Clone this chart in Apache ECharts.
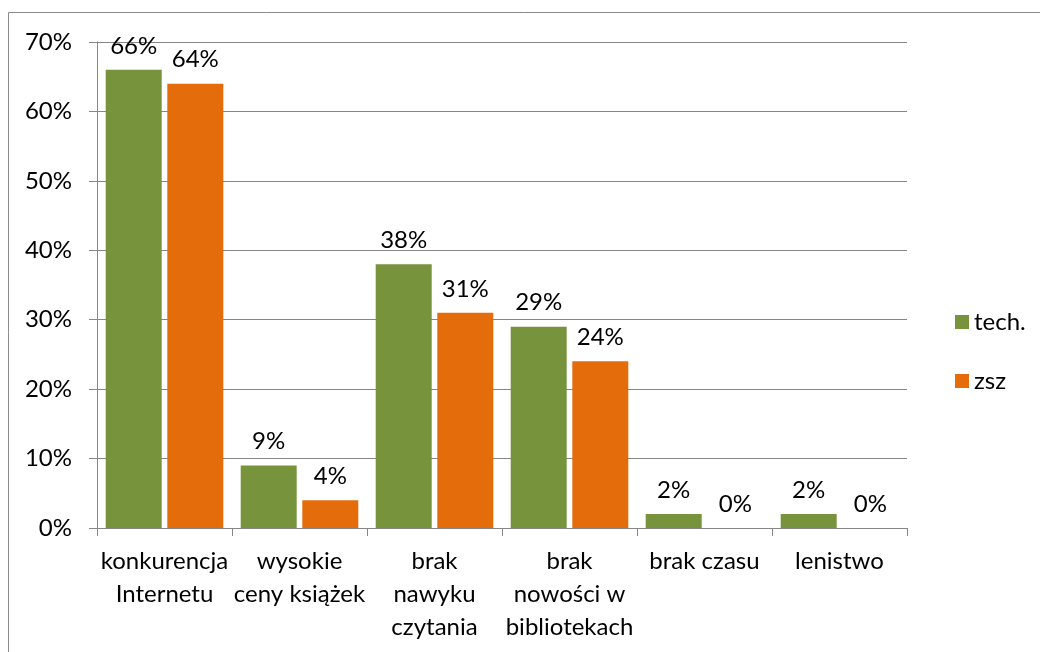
<!DOCTYPE html>
<html>
<head>
<meta charset="utf-8">
<script src="https://cdn.jsdelivr.net/npm/echarts@6/dist/echarts.min.js"></script>
<style>
  html, body { margin: 0; padding: 0; background: #fff; }
  #chart { width: 1040px; height: 652px; }
</style>
</head>
<body>
<div id="chart"></div>
<script>
const categories = [
  'konkurencja\nInternetu',
  'wysokie\nceny książek',
  'brak\nnawyku\nczytania',
  'brak\nnowości w\nbibliotekach',
  'brak czasu',
  'lenistwo'
]
const techValues = [66, 9, 38, 29, 2, 2]
const zszValues = [64, 4, 31, 24, 0, 0]

const font = 'Lato, "Open Sans", sans-serif'
const axisGray = '#868686'
const fontSize = 24

const chart = echarts.init(document.getElementById('chart'))

const barLabel = {
  show: true,
  position: 'top',
  distance: 12,
  formatter: '{c}%',
  color: '#000',
  fontFamily: font,
  fontSize: fontSize
}

chart.setOption({
  animation: false,
  textStyle: { fontFamily: font },
  graphic: [{
    type: 'rect',
    shape: { x: 8.5, y: 12.5, width: 1100, height: 1000 },
    style: { fill: 'none', stroke: '#8c8c8c', lineWidth: 1 },
    z: -1
  }],
  grid: { left: 97, right: 133, top: 42, bottom: 124 },
  legend: {
    orient: 'vertical',
    left: 950,
    top: 305,
    icon: 'rect',
    itemWidth: 14,
    itemHeight: 14,
    itemGap: 35,
    textStyle: { fontFamily: font, fontSize: fontSize, color: '#000' },
    data: ['tech.', 'zsz']
  },
  xAxis: {
    type: 'category',
    data: categories,
    axisLine: { lineStyle: { color: axisGray } },
    axisTick: { show: true, length: 8, lineStyle: { color: axisGray } },
    axisLabel: {
      interval: 0,
      margin: 17,
      color: '#000',
      fontFamily: font,
      fontSize: fontSize,
      lineHeight: 33
    }
  },
  yAxis: {
    type: 'value',
    min: 0,
    max: 70,
    interval: 10,
    axisLine: { show: true, lineStyle: { color: axisGray } },
    axisTick: { show: true, length: 8, lineStyle: { color: axisGray } },
    splitLine: { lineStyle: { color: axisGray } },
    axisLabel: {
      formatter: '{value}%',
      margin: 25,
      color: '#000',
      fontFamily: font,
      fontSize: fontSize
    }
  },
  series: [
    {
      name: 'tech.',
      type: 'bar',
      data: techValues,
      barWidth: 56,
      barGap: '10%',
      itemStyle: { color: '#77933C' },
      label: barLabel
    },
    {
      name: 'zsz',
      type: 'bar',
      data: zszValues,
      barWidth: 56,
      itemStyle: { color: '#E46C0A' },
      label: barLabel
    }
  ]
})
</script>
</body>
</html>
